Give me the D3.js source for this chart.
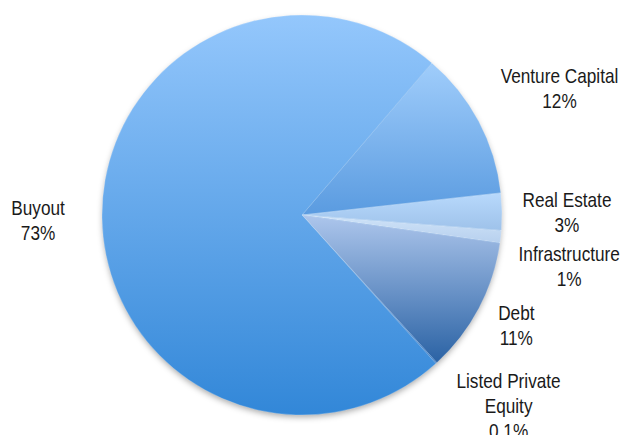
<!DOCTYPE html>
<html><head><meta charset="utf-8">
<script src="https://cdn.jsdelivr.net/npm/d3@7"></script>
<style>body{margin:0;background:#fff}</style>
</head><body>
<script>
const categories = ["Venture Capital","Real Estate","Infrastructure","Debt","Listed Private Equity","Buyout"];
const values = [12, 3, 1, 11, 0.1, 73];
const labelText = ["12%","3%","1%","11%","0.1%","73%"];
const labelLines = [["Venture Capital"],["Real Estate"],["Infrastructure"],["Debt"],["Listed Private","Equity"],["Buyout"]];
const topColors = ["#a0cdfb","#b8d9fc","#cfe3f8","#adc6ec","#9fc1ea","#94c7fc"];
const botColors = ["#5a9be0","#9ec2ea","#b7d0ee","#2a62a4","#3c78bf","#3287d8"];
// label layout: radius from centre and angle nudge (degrees)
const labelRad = [287, 265, 272, 241, 281, 264];
const labelAng = [1.7, 0.3, 4.5, -0.6, -5.1, -0.4];

const W = 622, H = 435, cx = 302, cy = 215, r = 200;
const startDeg = 40.5;
const svg = d3.select("body").append("svg").attr("width", W).attr("height", H);
const defs = svg.append("defs");
const f = defs.append("filter").attr("id","sh").attr("x","-20%").attr("y","-20%").attr("width","140%").attr("height","140%");
f.append("feDropShadow").attr("dx",0).attr("dy",3).attr("stdDeviation",3).attr("flood-color","#000").attr("flood-opacity",0.35);
categories.forEach((c,i)=>{
  const g = defs.append("linearGradient").attr("id","g"+i).attr("x1",0).attr("y1",0).attr("x2",0).attr("y2",1);
  g.append("stop").attr("offset","0%").attr("stop-color",topColors[i]);
  g.append("stop").attr("offset","100%").attr("stop-color",botColors[i]);
});
const pie = d3.pie().sort(null).value(d=>d).startAngle(startDeg*Math.PI/180).endAngle((startDeg+360)*Math.PI/180);
const arcs = pie(values);
const arc = d3.arc().innerRadius(0).outerRadius(r);
const g = svg.append("g").attr("transform",`translate(${cx},${cy})`);
g.append("circle").attr("r",r-1).attr("fill","#3a8ad8").attr("filter","url(#sh)");
g.selectAll("path").data(arcs).join("path")
  .attr("d",arc).attr("fill",(d,i)=>`url(#g${i})`)
  .attr("stroke","rgba(255,255,255,0.35)").attr("stroke-width",0.6);

const lg = g.append("g").attr("font-family","'Liberation Sans','Arial',sans-serif")
  .attr("font-size",21).attr("fill","#1a1a1a").attr("text-anchor","middle");
arcs.forEach((d,i)=>{
  const a = (d.startAngle+d.endAngle)/2 + labelAng[i]*Math.PI/180;
  const x = labelRad[i]*Math.sin(a), y = -labelRad[i]*Math.cos(a);
  const lines = labelLines[i].concat([labelText[i]]);
  const lh = 25;
  const tg = lg.append("g").attr("transform",`translate(${x},${y - (lines.length-1)*lh/2}) scale(0.82,1)`);
  const t = tg.append("text").attr("x",0).attr("y",0);
  lines.forEach((s,k)=>t.append("tspan").attr("x",0).attr("dy",k===0?"0.36em":lh).text(s));
});
</script>
</body></html>
